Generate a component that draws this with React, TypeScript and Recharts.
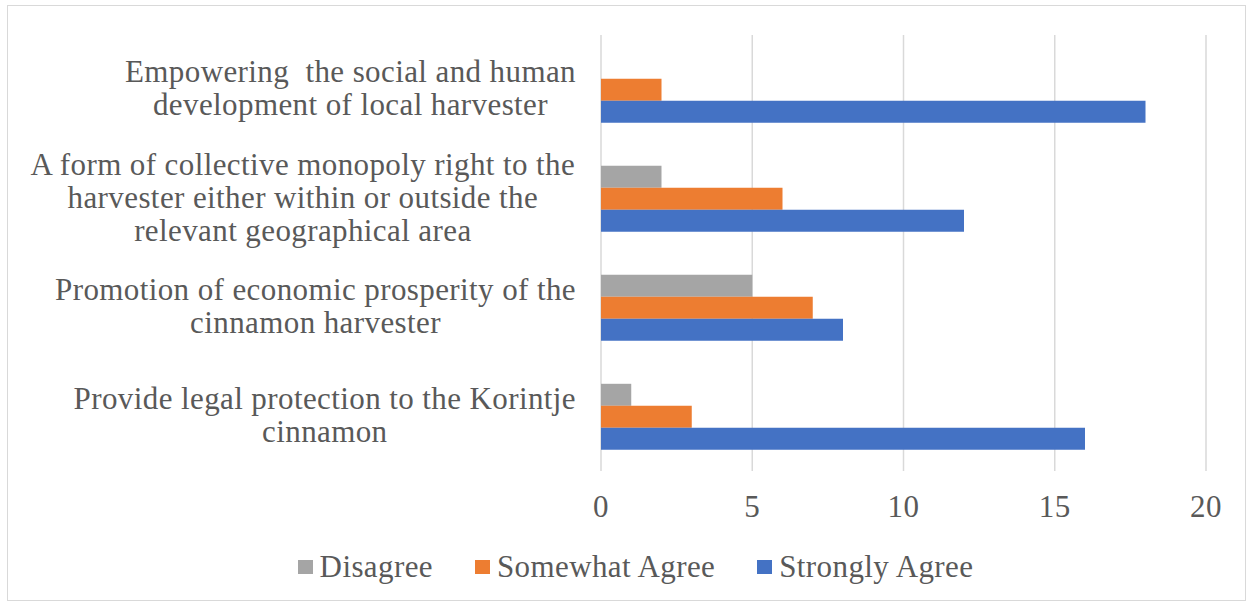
import { BarChart, Bar, XAxis, YAxis, CartesianGrid } from "recharts";

// categories (top to bottom), each split into the lines shown on the axis
const categories = [
  "Empowering  the social and human development of local harvester",
  "A form of collective monopoly right to the harvester either within or outside the relevant geographical area",
  "Promotion of economic prosperity of the cinnamon harvester",
  "Provide legal protection to the Korintje cinnamon",
];
const categoryLines = [
  ["Empowering  the social and human", "development of local harvester"],
  ["A form of collective monopoly right to the", "harvester either within or outside the", "relevant geographical area"],
  ["Promotion of economic prosperity of the", "cinnamon harvester"],
  ["Provide legal protection to the Korintje", "cinnamon"],
];

const disagree = [0, 2, 5, 1];
const somewhatAgree = [2, 6, 7, 3];
const stronglyAgree = [18, 12, 8, 16];
const xTicks = [0, 5, 10, 15, 20];

const series = [
  { key: "disagree", name: "Disagree", color: "#A5A5A5" },
  { key: "somewhat", name: "Somewhat Agree", color: "#ED7D31" },
  { key: "strongly", name: "Strongly Agree", color: "#4472C4" },
];

const data = categories.map((c, i) => ({
  name: c,
  disagree: disagree[i],
  somewhat: somewhatAgree[i],
  strongly: stronglyAgree[i],
}));

const FONT = "Liberation Serif";
const FS = 31;
const LS = 0.4;
const TEXT = "#595959";

let ctx: CanvasRenderingContext2D | null = null;
function measure(s: string) {
  if (!ctx) ctx = document.createElement("canvas").getContext("2d");
  if (!ctx) return s.length * FS * 0.42;
  ctx.font = `${FS}px "${FONT}"`;
  (ctx as any).letterSpacing = `${LS}px`;
  return ctx.measureText(s).width;
}

const CategoryTick = (props: any) => {
  const { y, payload, index } = props;
  const lines: string[] = categoryLines[index] ?? [payload.value];
  const w = Math.max(...lines.map(measure));
  const cx = 576 - w / 2;
  const lh = 33;
  return (
    <g>
      {lines.map((l, i) => (
        <text
          key={i}
          x={cx}
          y={y + 2 + (i - (lines.length - 1) / 2) * lh}
          textAnchor="middle"
          dominantBaseline="middle"
          fill={TEXT}
          fontFamily={FONT}
          fontSize={FS}
          letterSpacing={LS}
          style={{ whiteSpace: "pre" }}
        >
          {l}
        </text>
      ))}
    </g>
  );
};

const ValueTick = (props: any) => {
  const { x, payload } = props;
  return (
    <text
      x={x}
      y={510}
      textAnchor="middle"
      dominantBaseline="middle"
      fill={TEXT}
      fontFamily={FONT}
      fontSize={FS}
      letterSpacing={LS}
    >
      {payload.value}
    </text>
  );
};

export default function App() {
  return (
    <div style={{ position: "absolute", left: 0, top: 0, width: 1249, height: 607, background: "#fff" }}>
      <div
        style={{
          position: "absolute",
          left: 7,
          top: 5,
          width: 1237,
          height: 594,
          border: "1.5px solid #D9D9D9",
        }}
      />
      <div style={{ position: "absolute", left: 0, top: 0 }}>
        <BarChart
          width={1249}
          height={607}
          data={data}
          layout="vertical"
          margin={{ top: 35, right: 43, bottom: 96, left: 0 }}
          barCategoryGap="20%"
          barGap={0}
        >
          <CartesianGrid horizontal={false} stroke="#D9D9D9" strokeWidth={1.5} />
          <XAxis
            type="number"
            domain={[0, 20]}
            ticks={xTicks}
            axisLine={false}
            tickLine={false}
            height={40}
            tick={<ValueTick />}
            interval={0}
          />
          <YAxis
            type="category"
            dataKey="name"
            width={601}
            axisLine={false}
            tickLine={false}
            tick={<CategoryTick />}
            interval={0}
          />
          {series.map((s) => (
            <Bar key={s.key} dataKey={s.key} name={s.name} fill={s.color} isAnimationActive={false} />
          ))}
        </BarChart>
      </div>
      <div
        style={{
          position: "absolute",
          top: 549,
          left: 0,
          width: 1249,
          display: "flex",
          justifyContent: "center",
          gap: 42,
          fontFamily: FONT,
          fontSize: FS,
          letterSpacing: LS,
          color: TEXT,
          paddingLeft: 22,
          boxSizing: "border-box",
        }}
      >
        {series.map((s) => (
          <div key={s.key} style={{ display: "flex", alignItems: "center", gap: 7 }}>
            <div style={{ width: 15, height: 14, background: s.color }} />
            <span>{s.name}</span>
          </div>
        ))}
      </div>
    </div>
  );
}
